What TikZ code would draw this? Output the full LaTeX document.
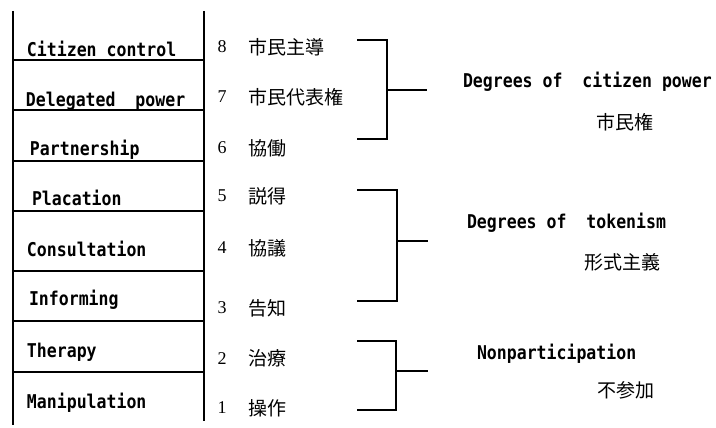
\documentclass[tikz,border=0pt]{standalone}
\usepackage{fontspec}
\newfontfamily\latfont[FakeStretch=0.87]{DejaVu Sans Mono Bold}
\newfontfamily\jpfont{Noto Sans CJK JP}
\newfontfamily\numfont{Liberation Serif}
\begin{document}
\begin{tikzpicture}[x=1pt,y=-1pt,line width=2pt,
  lab/.style={font=\latfont\fontsize{19}{22}\selectfont,inner sep=0pt,anchor=base west},
  num/.style={font=\numfont\fontsize{18}{20}\selectfont,inner sep=0pt,anchor=center},
  jp/.style={font=\jpfont\fontsize{19}{22}\selectfont,inner sep=0pt,anchor=west},
  rule/.style={line width=2pt}]
\useasboundingbox (0,0) rectangle (716,428);
% ladder frame
\coordinate (lt) at (13,11); \coordinate (lb) at (13,425);
\coordinate (rt) at (204,11); \coordinate (rb) at (204,421);
\draw[rule] (lt) -- (lb);
\draw[rule] (rt) -- (rb);
\foreach \y [count=\i] in {60,110,161,211,271,321,372}{
  \coordinate (hl\i) at (13,\y); \coordinate (hr\i) at (204,\y);
  \draw[rule] (hl\i) -- (hr\i);
}
% rung labels
\node[lab] (r8) at (26,56.5) {Citizen control};
\node[lab] (r7) at (25,106.5) {Delegated~~power};
\node[lab] (r6) at (29,156) {Partnership};
\node[lab] (r5) at (31,205) {Placation};
\node[lab] (r4) at (26,256) {Consultation};
\node[lab] (r3) at (28,305) {Informing};
\node[lab] (r2) at (26,357) {Therapy};
\node[lab] (r1) at (26,408) {Manipulation};
% numbers
\node[num] (n8) at (222,47) {8};
\node[num] (n7) at (222,97) {7};
\node[num] (n6) at (222,148) {6};
\node[num] (n5) at (222,196) {5};
\node[num] (n4) at (222,248) {4};
\node[num] (n3) at (222,308) {3};
\node[num] (n2) at (222,359) {2};
\node[num] (n1) at (222,408) {1};
% japanese
\node[jp] (j8) at (247,47) {市民主導};
\node[jp] (j7) at (247,97) {市民代表権};
\node[jp] (j6) at (247,148) {協働};
\node[jp] (j5) at (247,196) {説得};
\node[jp] (j4) at (247,248) {協議};
\node[jp] (j3) at (247,308) {告知};
\node[jp] (j2) at (247,358) {治療};
\node[jp] (j1) at (247,408) {操作};
% brackets
\coordinate (a1) at (357,40); \coordinate (a2) at (387,40);
\coordinate (a3) at (387,139); \coordinate (a4) at (357,139);
\coordinate (am) at (387,90); \coordinate (ae) at (427,90);
\draw[rule] (a1) -- (a2) -- (a3) -- (a4);
\draw[rule] (am) -- (ae);
\coordinate (b1) at (357,190); \coordinate (b2) at (397,190);
\coordinate (b3) at (397,301); \coordinate (b4) at (357,301);
\coordinate (bm) at (397,241); \coordinate (be) at (428,241);
\draw[rule] (b1) -- (b2) -- (b3) -- (b4);
\draw[rule] (bm) -- (be);
\coordinate (c1) at (357,341); \coordinate (c2) at (396,341);
\coordinate (c3) at (396,410); \coordinate (c4) at (357,410);
\coordinate (cm) at (396,371); \coordinate (ce) at (428,371);
\draw[rule] (c1) -- (c2) -- (c3) -- (c4);
\draw[rule] (cm) -- (ce);
% group labels
\node[lab] (g1) at (462,88) {Degrees of~~citizen power};
\node[jp] (g1j) at (595,122) {市民権};
\node[lab] (g2) at (466,229) {Degrees of~~tokenism};
\node[jp] (g2j) at (583,262) {形式主義};
\node[lab] (g3) at (476,359) {Nonparticipation};
\node[jp] (g3j) at (596,390) {不参加};
\end{tikzpicture}
\end{document}
